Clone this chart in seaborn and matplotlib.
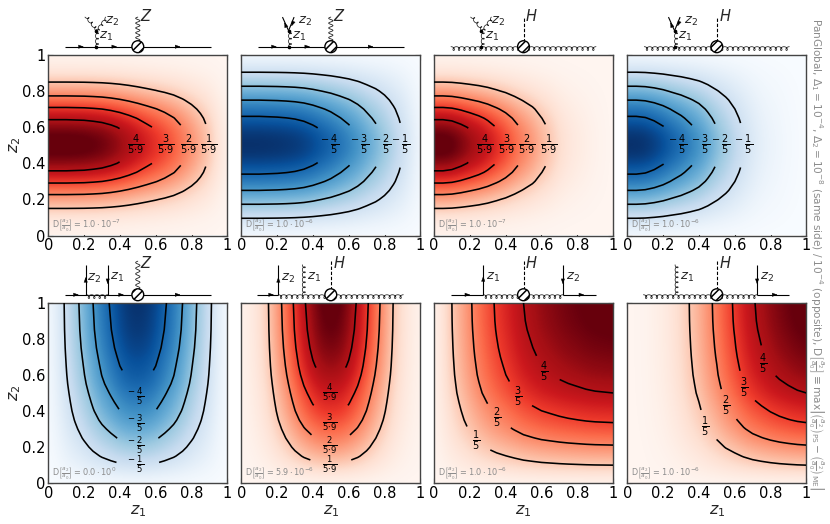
import numpy as np
import matplotlib
matplotlib.use("Agg")
import matplotlib.pyplot as plt
import seaborn as sns
from matplotlib.patches import Circle

# ---------- values: profiles on a 0.05-spaced grid ----------
z_grid = [0, .05, .1, .15, .2, .25, .3, .35, .4, .45, .5, .55, .6, .65, .7, .75, .8, .85, .9, .95, 1]

p1_z1 = [1, 1, 1, .995, .99, .975, .955, .92, .875, .82, .76, .70, .645, .585, .52, .445, .365, .285, .20, .10, .03]
p1_z2 = [.02, .04, .10, .20, .32, .47, .63, .78, .90, .98, 1, .98, .90, .78, .63, .47, .32, .20, .10, .04, .02]
p2_z1 = [1, 1, 1, .995, .99, .98, .965, .94, .90, .85, .80, .74, .68, .61, .53, .46, .38, .295, .21, .11, .03]
p2_z2 = [.03, .10, .21, .34, .47, .60, .72, .82, .91, .98, 1, .98, .91, .82, .72, .60, .47, .34, .21, .10, .03]
p3_z1 = [1, 1, .98, .93, .87, .81, .74, .66, .58, .49, .41, .34, .26, .20, .13, .09, .06, .04, .02, .01, 0]
p3_z2 = p1_z2
p4_z1 = [1, 1, .985, .945, .89, .82, .76, .69, .62, .53, .44, .36, .28, .205, .14, .09, .06, .04, .02, .01, 0]
p4_z2 = p2_z2
p5_z1 = [.02, .10, .23, .35, .47, .60, .72, .82, .92, .98, 1, .98, .92, .82, .72, .60, .47, .35, .23, .10, .02]
p5_z2 = [.03, .10, .20, .29, .37, .45, .52, .59, .65, .70, .75, .80, .84, .87, .90, .93, .95, .97, .98, .99, 1]
p6_z1 = [.02, .05, .11, .195, .33, .47, .63, .78, .90, .98, 1, .98, .90, .78, .63, .47, .33, .195, .11, .05, .02]
p6_z2 = [.02, .09, .18, .27, .35, .43, .50, .57, .63, .68, .73, .78, .83, .87, .90, .93, .95, .97, .98, .99, 1]
p7_z1 = [.02, .10, .20, .29, .38, .47, .55, .62, .68, .74, .80, .84, .88, .905, .93, .95, .965, .98, .99, .995, 1]
p7_z2 = p7_z1
p8_z1 = [0, .005, .01, .03, .05, .09, .14, .205, .27, .36, .44, .54, .62, .71, .785, .84, .89, .93, .96, .985, 1]
p8_z2 = p7_z1

cmaps = ["Reds", "Blues", "Reds", "Blues", "Blues", "Reds", "Reds", "Reds"]
profiles = [(p1_z1, p1_z2), (p2_z1, p2_z2), (p3_z1, p3_z2), (p4_z1, p4_z2),
            (p5_z1, p5_z2), (p6_z1, p6_z2), (p7_z1, p7_z2), (p8_z1, p8_z2)]
levels = [.2, .4, .6, .8]

RED_FRAC = [r"$\frac{%d}{5{\cdot}9}$" % i for i in (1, 2, 3, 4)]
BLUE_FRAC = [r"$^{-}\,\frac{%d}{5}$" % i for i in (1, 2, 3, 4)]
POS_FRAC = [r"$\frac{%d}{5}$" % i for i in (1, 2, 3, 4)]
labels = [RED_FRAC, BLUE_FRAC, RED_FRAC, BLUE_FRAC, BLUE_FRAC, RED_FRAC, POS_FRAC, POS_FRAC]

# where each contour is broken for its label, and where the label itself sits
gap_pos = [
    [(.90, .5), (.78, .5), (.64, .5), (.47, .5)],
    [(.905, .5), (.79, .5), (.66, .5), (.50, .5)],
    [(.65, .5), (.51, .5), (.39, .5), (.26, .5)],
    [(.655, .5), (.525, .5), (.41, .5), (.27, .5)],
    [(.5, .10), (.5, .22), (.5, .36), (.5, .55)],
    [(.5, .11), (.5, .235), (.5, .375), (.5, .57)],
    [(.235, .235), (.35, .36), (.467, .48), (.615, .618)],
    [(.435, .314), (.552, .43), (.653, .531), (.756, .664)],
]
label_pos = [
    [(.895, .5), (.785, .5), (.655, .5), (.49, .5)],
    [(.892, .5), (.785, .5), (.66, .5), (.493, .5)],
    [(.643, .5), (.517, .5), (.405, .5), (.284, .5)],
    [(.647, .5), (.519, .5), (.407, .5), (.282, .5)],
    [(.49, .105), (.49, .212), (.49, .335), (.49, .483)],
    [(.496, .105), (.496, .212), (.496, .341), (.496, .507)],
    [(.234, .236), (.35, .36), (.467, .48), (.615, .618)],
    [(.435, .314), (.552, .43), (.653, .531), (.756, .664)],
]
label_size = [10, 10, 10, 10, 8.8, 8.8, 10, 10]
annot = [r"1.0\cdot 10^{-7}", r"1.0\cdot 10^{-6}", r"1.0\cdot 10^{-7}", r"1.0\cdot 10^{-6}",
         r"0.0\cdot 10^{0}", r"5.9\cdot 10^{-6}", r"1.0\cdot 10^{-6}", r"1.0\cdot 10^{-6}"]
ticks = [0, .2, .4, .6, .8, 1]
tick_labels = ["0", "0.2", "0.4", "0.6", "0.8", "1"]

sns.set_theme(style="ticks")
plt.rcParams.update({"font.family": ["DejaVu Sans"], "mathtext.fontset": "dejavusans",
                     "axes.edgecolor": "#444444", "axes.linewidth": 1.0, "hatch.linewidth": 1.1,
                     "xtick.color": "black", "ytick.color": "black"})

W, H = 830, 524
fig = plt.figure(figsize=(W / 100, H / 100), dpi=100)
lefts = [48.3, 241.3, 434.0, 627.3]
tops = [55.0, 302.7]
AW, AH = 179.0, 180.5


# ---------- Feynman-diagram decorations, in axes-data units above each panel ----------
def line(ax, x0, y0, x1, y1, **kw):
    kw.setdefault("color", "black")
    kw.setdefault("lw", 0.8)
    ax.plot([x0, x1], [y0, y1], clip_on=False, solid_capstyle="butt", zorder=5, **kw)


def arrow(ax, x, y, dx, dy):
    ax.annotate("", xy=(x + dx * .012, y + dy * .012), xytext=(x - dx * .012, y - dy * .012),
                arrowprops=dict(arrowstyle="-|>,head_width=0.2,head_length=0.55", color="black",
                                lw=.3, shrinkA=0, shrinkB=0, mutation_scale=6),
                annotation_clip=False, zorder=6)


def gluon(ax, x0, y0, x1, y1, pitch=.03, r=.0105, side=-1):
    L = np.hypot(x1 - x0, y1 - y0)
    n = max(2, int(round(L / pitch)))
    t = np.linspace(0, 2 * np.pi * n, 40 * n)
    u = L * t / t[-1] + r * np.sin(t)
    v = side * r * (1 - np.cos(t))
    ex, ey = (x1 - x0) / L, (y1 - y0) / L
    ax.plot(x0 + u * ex - v * ey, y0 + u * ey + v * ex, color="#222222", lw=.55, clip_on=False, zorder=5)


def photon(ax, x, y0, y1):
    t = np.linspace(0, 1, 120)
    ax.plot(x + .012 * np.sin(t * 2 * np.pi * 5), y0 + (y1 - y0) * t, color="#222222", lw=.6,
            clip_on=False, zorder=5)


def blob(ax, y):
    ax.add_patch(Circle((.5, y), .033, facecolor="white", edgecolor="black", hatch="////", lw=1.0,
                        clip_on=False, zorder=7))


def tag(ax, x, y, s, size=9.5):
    ax.text(x, y, s, fontsize=size, ha="center", va="center", clip_on=False, zorder=8)


def dot(ax, x, y):
    ax.plot([x], [y], "o", ms=1.6, color="black", clip_on=False, zorder=6)


def diagram(ax, i):
    top = 1.21
    base = 1.046 if i < 4 else 1.044
    if i < 2:
        line(ax, .093, base, .907, base)
        for a in (.186, .372, .726):
            arrow(ax, a, base, 1, 0)
    elif i < 4:
        gluon(ax, .095, base, .905, base)
    if i < 4:
        vx = .264
        dot(ax, vx, base)
        gluon(ax, vx, base, vx, 1.135, r=.0085)
        dot(ax, vx, 1.135)
        if i % 2 == 0:
            gluon(ax, vx, 1.135, .205, top, r=.008)
            gluon(ax, vx, 1.135, .32, top, r=.008)
        else:
            line(ax, vx, 1.135, .23, top)
            line(ax, vx, 1.135, .295, top)
            arrow(ax, .245, 1.17, -.4, .9)
            arrow(ax, .285, 1.17, -.4, -.9)
        tag(ax, .355, 1.185, "$z_2$")
        tag(ax, .325, 1.105, "$z_1$")
    if i == 4:
        line(ax, .093, base, .907, base)
        for a in (.158, .41, .726):
            arrow(ax, a, base, 1, 0)
        gluon(ax, .212, base, .332, base)
        line(ax, .209, base, .209, top); arrow(ax, .209, 1.13, 0, 1)
        line(ax, .332, base, .332, top); arrow(ax, .332, 1.115, 0, -1)
        tag(ax, .255, 1.135, "$z_2$"); tag(ax, .385, 1.14, "$z_1$")
    if i == 5:
        line(ax, .09, base, .207, base); arrow(ax, .17, base, 1, 0)
        gluon(ax, .207, base, .905, base)
        line(ax, .207, base, .207, top); arrow(ax, .207, 1.13, 0, 1)
        gluon(ax, .341, base, .341, top, r=.0085)
        tag(ax, .26, 1.135, "$z_2$"); tag(ax, .405, 1.14, "$z_1$")
    if i == 6:
        line(ax, .095, base, .275, base); arrow(ax, .19, base, 1, 0)
        gluon(ax, .275, base, .72, base)
        line(ax, .72, base, .905, base); arrow(ax, .827, base, 1, 0)
        line(ax, .275, base, .275, top); arrow(ax, .275, 1.135, 0, 1)
        line(ax, .72, base, .72, top); arrow(ax, .72, 1.115, 0, -1)
        tag(ax, .33, 1.14, "$z_1$"); tag(ax, .775, 1.14, "$z_2$")
    if i == 7:
        gluon(ax, .09, base, .725, base)
        line(ax, .725, base, .905, base); arrow(ax, .827, base, 1, 0)
        gluon(ax, .267, base, .267, top, r=.0085)
        line(ax, .725, base, .725, top); arrow(ax, .725, 1.115, 0, -1)
        tag(ax, .335, 1.14, "$z_1$"); tag(ax, .78, 1.14, "$z_2$")
    if i in (0, 1, 4):
        photon(ax, .5, base + .03, top + (.0 if i < 4 else .02))
        tag(ax, .545, 1.218, "$Z$", 10.5)
    else:
        line(ax, .5, base, .5, top + (0 if i < 4 else .02), ls=(0, (3, 1.6)))
        tag(ax, .545, 1.218, "$H$", 10.5)
    blob(ax, base)


for i, (cmap, (pz1, pz2)) in enumerate(zip(cmaps, profiles)):
    col, row = i % 4, i // 4
    ax = fig.add_axes([lefts[col] / W, 1 - (tops[row] + AH) / H, AW / W, AH / H])
    values = np.outer(pz2, pz1)
    step = z_grid[1] - z_grid[0]
    ax.imshow(values, origin="lower", cmap=sns.color_palette(cmap, as_cmap=True), vmin=0,
              vmax=(.97 if cmap == "Reds" else 1.0),
              extent=(z_grid[0] - step / 2, z_grid[-1] + step / 2, z_grid[0] - step / 2, z_grid[-1] + step / 2),
              interpolation="bicubic", aspect="auto", zorder=1)
    cs = ax.contour(z_grid, z_grid, values, levels=levels, colors="black", linewidths=1.15, zorder=3)
    fmt = dict(zip(cs.levels, labels[i]))
    ax.clabel(cs, inline=True, inline_spacing=12, manual=gap_pos[i], fmt=fmt, fontsize=label_size[i],
              colors="black")
    for t in cs.labelTexts:
        t.set_rotation(0)
        t.set_position(label_pos[i][list(labels[i]).index(t.get_text())])
    ax.set_xlim(0, 1)
    ax.set_ylim(0, 1)
    ax.set_xticks(ticks)
    ax.set_yticks(ticks)
    ax.set_xticklabels(tick_labels, fontsize=10.5)
    ax.set_yticklabels(tick_labels if col == 0 else [], fontsize=10.5)
    ax.tick_params(direction="in", top=True, right=True, length=3.5, width=.8, pad=2, color="#333333")
    if row == 1:
        ax.set_xlabel("$z_1$", fontsize=11.5, labelpad=2)
    if col == 0:
        ax.set_ylabel("$z_2$", fontsize=11.5, labelpad=-1)
    ax.text(.02, .056, r"$\mathrm{D}\left[\frac{a_2}{a_0}\right]=" + annot[i] + "$", transform=ax.transAxes,
            fontsize=5.9, color="#8c8c8c", ha="left", va="center", zorder=4)
    diagram(ax, i)

fig.text(816 / W, 1 - 18 / H,
         r"PanGlobal, $\Delta_1=10^{-4}$, $\Delta_2=10^{-8}$ (same side) / $10^{-4}$ (opposite), "
         r"$\mathrm{D}\left[\frac{a_2}{a_0}\right]\equiv\max\left|\left(\frac{a_2}{a_0}\right)_{\mathrm{PS}}"
         r"-\left(\frac{a_2}{a_0}\right)_{\mathrm{ME}}\right|$",
         rotation=270, rotation_mode="anchor", ha="left", va="center", fontsize=7.6, color="#8c8c8c")

fig.savefig("out.png", dpi=100, facecolor="white")
